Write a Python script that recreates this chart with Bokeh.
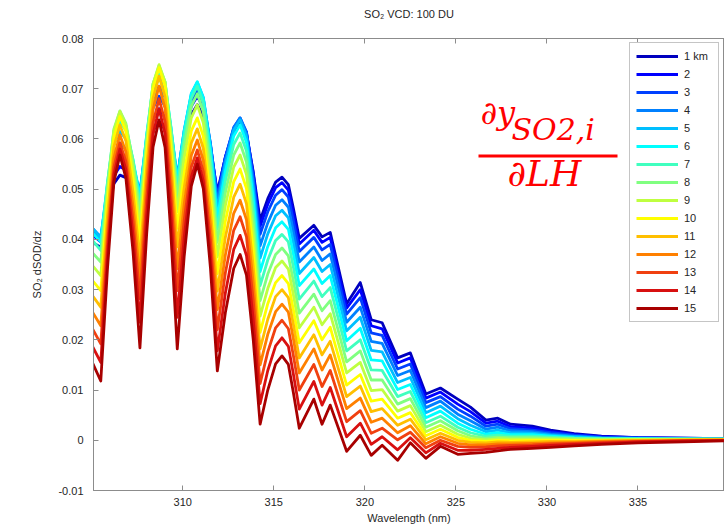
from bokeh.plotting import figure
from bokeh.models import Legend, LegendItem, LinearAxis, FixedTicker, Label, BoxAnnotation, Range1d
from bokeh.embed import file_html
from bokeh.resources import INLINE

# ---- data ----
wavelength_nm = [305.0, 305.5, 305.87, 306.22, 306.55, 306.88, 307.27, 307.65, 308.02, 308.37, 308.7, 309.03,
                 309.35, 309.7, 310.08, 310.47, 310.8, 311.13, 311.52, 311.9, 312.34, 312.8, 313.15, 313.5,
                 313.87, 314.25, 314.67, 315.1, 315.45, 315.8, 316.07, 316.4, 317.2, 317.65, 318.1, 319.0,
                 319.75, 320.35, 320.95, 321.8, 322.5, 323.35, 324.15, 325.1, 325.8, 326.65, 327.3, 328.0,
                 329.2, 330.2, 331.5, 333.0, 335.0, 337.5, 340.0]

dsod_01km = [0.0395, 0.0384, 0.0456, 0.0511, 0.0528, 0.0523, 0.0506, 0.0484, 0.0560, 0.0617, 0.0635, 0.0619, 0.0570, 0.0505, 0.0586, 0.0648, 0.0668, 0.0647, 0.0581, 0.0494, 0.0563, 0.0615, 0.0632, 0.0609, 0.0535, 0.0438, 0.0481, 0.0514, 0.0524, 0.0509, 0.0463, 0.0402, 0.0428, 0.0405, 0.0414, 0.0272, 0.0314, 0.0240, 0.0234, 0.0164, 0.0174, 0.0092, 0.0104, 0.0082, 0.0066, 0.0040, 0.0044, 0.0032, 0.0028, 0.0020, 0.0013, 0.0008, 0.0005, 0.0004, 0.0003]
dsod_02km = [0.0410, 0.0395, 0.0470, 0.0527, 0.0545, 0.0538, 0.0518, 0.0490, 0.0575, 0.0640, 0.0660, 0.0643, 0.0588, 0.0515, 0.0600, 0.0665, 0.0685, 0.0662, 0.0588, 0.0490, 0.0564, 0.0620, 0.0638, 0.0613, 0.0532, 0.0426, 0.0470, 0.0503, 0.0513, 0.0498, 0.0452, 0.0391, 0.0418, 0.0394, 0.0404, 0.0263, 0.0300, 0.0228, 0.0222, 0.0154, 0.0164, 0.0084, 0.0096, 0.0072, 0.0057, 0.0034, 0.0038, 0.0027, 0.0024, 0.0017, 0.0011, 0.0007, 0.0005, 0.0004, 0.0003]
dsod_03km = [0.0418, 0.0402, 0.0485, 0.0548, 0.0568, 0.0559, 0.0531, 0.0494, 0.0590, 0.0662, 0.0685, 0.0665, 0.0604, 0.0522, 0.0610, 0.0677, 0.0698, 0.0672, 0.0591, 0.0484, 0.0563, 0.0623, 0.0642, 0.0614, 0.0526, 0.0410, 0.0455, 0.0488, 0.0499, 0.0484, 0.0438, 0.0376, 0.0404, 0.0379, 0.0390, 0.0251, 0.0284, 0.0214, 0.0209, 0.0142, 0.0152, 0.0075, 0.0087, 0.0062, 0.0048, 0.0028, 0.0032, 0.0023, 0.0020, 0.0015, 0.0010, 0.0006, 0.0004, 0.0003, 0.0003]
dsod_04km = [0.0424, 0.0405, 0.0499, 0.0570, 0.0592, 0.0580, 0.0543, 0.0494, 0.0600, 0.0680, 0.0705, 0.0683, 0.0615, 0.0524, 0.0616, 0.0686, 0.0708, 0.0680, 0.0591, 0.0474, 0.0558, 0.0622, 0.0642, 0.0611, 0.0515, 0.0387, 0.0433, 0.0468, 0.0479, 0.0464, 0.0417, 0.0355, 0.0385, 0.0358, 0.0371, 0.0235, 0.0265, 0.0197, 0.0193, 0.0129, 0.0139, 0.0065, 0.0078, 0.0052, 0.0039, 0.0022, 0.0026, 0.0019, 0.0017, 0.0012, 0.0008, 0.0005, 0.0004, 0.0003, 0.0003]
dsod_05km = [0.0424, 0.0403, 0.0509, 0.0590, 0.0615, 0.0600, 0.0553, 0.0490, 0.0606, 0.0694, 0.0722, 0.0698, 0.0622, 0.0522, 0.0618, 0.0690, 0.0713, 0.0683, 0.0587, 0.0460, 0.0549, 0.0617, 0.0638, 0.0605, 0.0501, 0.0363, 0.0411, 0.0447, 0.0458, 0.0443, 0.0395, 0.0332, 0.0364, 0.0336, 0.0350, 0.0218, 0.0245, 0.0179, 0.0176, 0.0115, 0.0125, 0.0055, 0.0068, 0.0043, 0.0030, 0.0017, 0.0020, 0.0015, 0.0014, 0.0010, 0.0007, 0.0004, 0.0003, 0.0003, 0.0002]
dsod_06km = [0.0415, 0.0395, 0.0515, 0.0606, 0.0635, 0.0617, 0.0559, 0.0482, 0.0609, 0.0705, 0.0735, 0.0709, 0.0625, 0.0515, 0.0615, 0.0690, 0.0714, 0.0681, 0.0578, 0.0442, 0.0535, 0.0606, 0.0628, 0.0593, 0.0482, 0.0336, 0.0386, 0.0423, 0.0435, 0.0420, 0.0372, 0.0308, 0.0341, 0.0312, 0.0328, 0.0198, 0.0223, 0.0160, 0.0158, 0.0101, 0.0111, 0.0045, 0.0058, 0.0034, 0.0022, 0.0012, 0.0015, 0.0011, 0.0011, 0.0008, 0.0005, 0.0003, 0.0003, 0.0002, 0.0002]
dsod_07km = [0.0400, 0.0378, 0.0513, 0.0616, 0.0648, 0.0626, 0.0558, 0.0468, 0.0605, 0.0709, 0.0742, 0.0713, 0.0622, 0.0502, 0.0604, 0.0681, 0.0705, 0.0671, 0.0563, 0.0420, 0.0516, 0.0589, 0.0612, 0.0576, 0.0460, 0.0308, 0.0359, 0.0398, 0.0410, 0.0395, 0.0346, 0.0281, 0.0317, 0.0286, 0.0304, 0.0178, 0.0200, 0.0140, 0.0139, 0.0087, 0.0097, 0.0035, 0.0048, 0.0026, 0.0015, 0.0008, 0.0010, 0.0008, 0.0008, 0.0006, 0.0004, 0.0003, 0.0002, 0.0002, 0.0002]
dsod_08km = [0.0375, 0.0355, 0.0506, 0.0620, 0.0656, 0.0631, 0.0553, 0.0450, 0.0598, 0.0710, 0.0746, 0.0714, 0.0614, 0.0482, 0.0586, 0.0665, 0.0690, 0.0654, 0.0542, 0.0394, 0.0493, 0.0568, 0.0592, 0.0554, 0.0435, 0.0278, 0.0331, 0.0370, 0.0383, 0.0367, 0.0318, 0.0253, 0.0291, 0.0258, 0.0278, 0.0156, 0.0178, 0.0120, 0.0120, 0.0072, 0.0083, 0.0026, 0.0039, 0.0019, 0.0009, 0.0004, 0.0006, 0.0005, 0.0005, 0.0004, 0.0003, 0.0002, 0.0002, 0.0002, 0.0002]
dsod_09km = [0.0350, 0.0328, 0.0492, 0.0616, 0.0655, 0.0627, 0.0540, 0.0425, 0.0587, 0.0709, 0.0748, 0.0713, 0.0602, 0.0455, 0.0562, 0.0642, 0.0668, 0.0632, 0.0517, 0.0365, 0.0467, 0.0544, 0.0568, 0.0529, 0.0408, 0.0247, 0.0302, 0.0344, 0.0357, 0.0341, 0.0291, 0.0224, 0.0265, 0.0230, 0.0252, 0.0134, 0.0155, 0.0099, 0.0101, 0.0058, 0.0069, 0.0017, 0.0030, 0.0012, 0.0004, 0.0001, 0.0003, 0.0002, 0.0002, 0.0002, 0.0001, 0.0001, 0.0001, 0.0001, 0.0002]
dsod_10km = [0.0320, 0.0298, 0.0472, 0.0603, 0.0645, 0.0615, 0.0520, 0.0395, 0.0569, 0.0700, 0.0742, 0.0704, 0.0582, 0.0422, 0.0532, 0.0616, 0.0642, 0.0605, 0.0487, 0.0332, 0.0436, 0.0515, 0.0540, 0.0501, 0.0378, 0.0215, 0.0272, 0.0314, 0.0328, 0.0312, 0.0261, 0.0194, 0.0238, 0.0200, 0.0225, 0.0110, 0.0131, 0.0078, 0.0082, 0.0044, 0.0055, 0.0009, 0.0022, 0.0006, 0.0000, -0.0002, 0.0000, -0.0001, 0.0000, 0.0000, 0.0000, 0.0000, 0.0001, 0.0001, 0.0001]
dsod_11km = [0.0290, 0.0265, 0.0447, 0.0584, 0.0628, 0.0596, 0.0494, 0.0360, 0.0543, 0.0681, 0.0725, 0.0684, 0.0555, 0.0385, 0.0503, 0.0592, 0.0620, 0.0581, 0.0459, 0.0297, 0.0404, 0.0484, 0.0510, 0.0471, 0.0346, 0.0182, 0.0241, 0.0286, 0.0300, 0.0284, 0.0232, 0.0164, 0.0210, 0.0170, 0.0197, 0.0087, 0.0108, 0.0057, 0.0063, 0.0030, 0.0042, 0.0001, 0.0014, 0.0000, -0.0004, -0.0005, -0.0003, -0.0004, -0.0003, -0.0002, -0.0002, -0.0001, 0.0000, 0.0001, 0.0001]
dsod_12km = [0.0258, 0.0228, 0.0418, 0.0562, 0.0608, 0.0574, 0.0465, 0.0322, 0.0514, 0.0659, 0.0705, 0.0661, 0.0524, 0.0342, 0.0470, 0.0567, 0.0598, 0.0557, 0.0429, 0.0260, 0.0369, 0.0452, 0.0478, 0.0439, 0.0314, 0.0150, 0.0211, 0.0256, 0.0271, 0.0255, 0.0203, 0.0134, 0.0182, 0.0140, 0.0170, 0.0063, 0.0084, 0.0036, 0.0044, 0.0015, 0.0029, -0.0007, 0.0007, -0.0006, -0.0009, -0.0009, -0.0007, -0.0007, -0.0006, -0.0005, -0.0004, -0.0002, -0.0001, 0.0000, 0.0001]
dsod_13km = [0.0225, 0.0192, 0.0392, 0.0544, 0.0592, 0.0555, 0.0437, 0.0282, 0.0481, 0.0632, 0.0680, 0.0634, 0.0489, 0.0298, 0.0438, 0.0544, 0.0578, 0.0535, 0.0399, 0.0220, 0.0333, 0.0418, 0.0445, 0.0405, 0.0279, 0.0113, 0.0176, 0.0224, 0.0239, 0.0222, 0.0170, 0.0100, 0.0151, 0.0107, 0.0139, 0.0037, 0.0059, 0.0014, 0.0024, 0.0001, 0.0016, -0.0015, 0.0000, -0.0012, -0.0014, -0.0013, -0.0011, -0.0010, -0.0009, -0.0007, -0.0006, -0.0004, -0.0002, -0.0001, 0.0000]
dsod_14km = [0.0190, 0.0155, 0.0368, 0.0529, 0.0580, 0.0539, 0.0408, 0.0235, 0.0448, 0.0609, 0.0660, 0.0610, 0.0453, 0.0245, 0.0404, 0.0524, 0.0562, 0.0516, 0.0370, 0.0178, 0.0293, 0.0380, 0.0408, 0.0368, 0.0241, 0.0073, 0.0139, 0.0188, 0.0204, 0.0187, 0.0133, 0.0062, 0.0117, 0.0070, 0.0105, 0.0007, 0.0034, -0.0008, 0.0007, -0.0019, 0.0005, -0.0025, -0.0006, -0.0020, -0.0020, -0.0018, -0.0016, -0.0014, -0.0012, -0.0010, -0.0008, -0.0006, -0.0003, -0.0001, 0.0000]
dsod_15km = [0.0158, 0.0118, 0.0343, 0.0514, 0.0568, 0.0522, 0.0376, 0.0184, 0.0411, 0.0584, 0.0638, 0.0583, 0.0410, 0.0182, 0.0366, 0.0506, 0.0550, 0.0501, 0.0344, 0.0138, 0.0254, 0.0342, 0.0370, 0.0329, 0.0201, 0.0032, 0.0100, 0.0152, 0.0168, 0.0151, 0.0096, 0.0024, 0.0082, 0.0032, 0.0070, -0.0022, 0.0010, -0.0030, -0.0010, -0.0040, -0.0005, -0.0036, -0.0012, -0.0028, -0.0026, -0.0024, -0.0021, -0.0018, -0.0016, -0.0014, -0.0011, -0.0008, -0.0005, -0.0003, -0.0001]

height_labels = ["1 km", "2", "3", "4", "5", "6", "7", "8", "9", "10", "11", "12", "13", "14", "15"]
x_ticks = [310, 315, 320, 325, 330, 335]
y_ticks = [-0.01, 0.0, 0.01, 0.02, 0.03, 0.04, 0.05, 0.06, 0.07, 0.08]
y_tick_labels = ["-0.01", "0", "0.01", "0.02", "0.03", "0.04", "0.05", "0.06", "0.07", "0.08"]
chart_title = "SO\u2082 VCD: 100 DU"

series = [dsod_01km, dsod_02km, dsod_03km, dsod_04km, dsod_05km, dsod_06km, dsod_07km, dsod_08km,
          dsod_09km, dsod_10km, dsod_11km, dsod_12km, dsod_13km, dsod_14km, dsod_15km]
for s in series:
    assert len(s) == len(wavelength_nm), len(s)

jet15 = ["#0000bf", "#0000ff", "#0040ff", "#0080ff", "#00bfff", "#00ffff", "#40ffbf", "#80ff80",
         "#bfff40", "#ffff00", "#ffbf00", "#ff8000", "#f04010", "#d81010", "#a80000"]

FONT = "Liberation Sans"
AX = "#8c8c8c"
TXT = "#262626"

p = figure(width=724, height=528, x_range=Range1d(305.1, 339.75), y_range=Range1d(-0.01, 0.08),
           output_backend="svg", toolbar_location=None,
           min_border_left=93, min_border_right=0, min_border_top=38, min_border_bottom=38)
p.grid.visible = False
p.outline_line_color = AX
p.background_fill_color = "white"
p.border_fill_color = "white"

p.xaxis.ticker = FixedTicker(ticks=x_ticks)
p.yaxis.ticker = FixedTicker(ticks=y_ticks)
p.yaxis.major_label_overrides = {t: l for t, l in zip(y_ticks, y_tick_labels)}
p.xaxis.axis_label = "Wavelength (nm)"
p.yaxis.axis_label = "SO\u2082 dSOD/dz"
for ax in (p.xaxis[0], p.yaxis[0]):
    ax.major_tick_in = 5
    ax.major_tick_out = 0
    ax.minor_tick_line_color = None
    ax.axis_line_color = AX
    ax.major_tick_line_color = AX
    ax.major_label_text_font = FONT
    ax.major_label_text_font_size = "11px"
    ax.major_label_text_color = TXT
    ax.axis_label_text_font = FONT
    ax.axis_label_text_font_size = "11px"
    ax.axis_label_text_font_style = "normal"
    ax.axis_label_text_color = TXT
p.xaxis.major_label_standoff = 7
p.xaxis.axis_label_standoff = 3
p.yaxis.major_label_standoff = 10
p.yaxis.axis_label_standoff = 12

# top frame edge with inward ticks; it also carries the chart title
top_axis = LinearAxis(ticker=FixedTicker(ticks=x_ticks), major_tick_in=5, major_tick_out=0,
                      minor_tick_line_color=None, axis_line_color=AX, major_tick_line_color=AX,
                      major_label_text_color=None, major_label_text_font_size="11px",
                      major_label_standoff=0,
                      axis_label=chart_title, axis_label_standoff=19,
                      axis_label_text_font=FONT, axis_label_text_font_size="11px",
                      axis_label_text_font_style="normal", axis_label_text_color=TXT)
p.add_layout(top_axis, "above")

items = []
for vals, col, lab in zip(series, jet15, height_labels):
    r = p.line(wavelength_nm, vals, line_color=col, line_width=2.8, line_join="round")
    items.append(LegendItem(label=lab, renderers=[r]))

legend = Legend(items=items, location=(536, 168), margin=0, padding=6, spacing=4,
                glyph_width=42, glyph_height=14, label_height=14, label_width=28, label_standoff=6,
                label_text_font=FONT, label_text_font_size="11px", label_text_color=TXT,
                border_line_color=AX, border_line_width=1, background_fill_color="white",
                background_fill_alpha=1.0)
p.add_layout(legend)

RED = "#ff0000"
MATH = "DejaVu Serif"
p.add_layout(Label(x=387, y=378, x_units="screen", y_units="screen", text="\u2202y",
                   text_font=MATH, text_font_style="italic", text_font_size="32px",
                   text_color=RED, text_baseline="alphabetic"))
p.add_layout(Label(x=418, y=361, x_units="screen", y_units="screen", text="SO2,i",
                   text_font=MATH, text_font_style="italic", text_font_size="30px",
                   text_color=RED, text_baseline="alphabetic"))
p.add_layout(BoxAnnotation(left=385, right=524, bottom=333, top=336,
                           left_units="screen", right_units="screen",
                           bottom_units="screen", top_units="screen",
                           fill_color=RED, fill_alpha=1.0, line_color=None))
p.add_layout(Label(x=414, y=317, x_units="screen", y_units="screen", text="\u2202LH",
                   text_font=MATH, text_font_style="italic", text_font_size="36px",
                   text_color=RED, text_baseline="alphabetic"))

open("out.html", "w").write(file_html(p, INLINE))
